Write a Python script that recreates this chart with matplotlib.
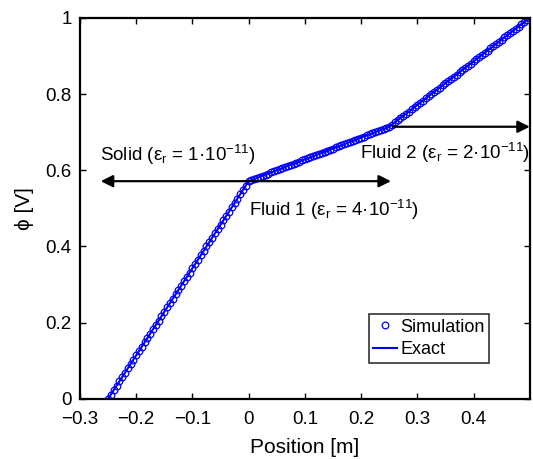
import numpy as np
import matplotlib
matplotlib.use('Agg')
import matplotlib.pyplot as plt

plt.rcParams['font.family'] = ['Liberation Sans', 'DejaVu Sans']
plt.rcParams['mathtext.default'] = 'regular'

# piecewise linear potential: solid / fluid 1 / fluid 2
x_nodes = [-0.25, 0.0, 0.25, 0.5]
phi_nodes = [0.0, 4 / 7, 5 / 7, 1.0]
x_sim = np.arange(-0.25, 0.5001, 0.005)
phi_sim = np.interp(x_sim, x_nodes, phi_nodes)

xticks = [-0.3, -0.2, -0.1, 0, 0.1, 0.2, 0.3, 0.4]
xticklabels = ['\u22120.3', '\u22120.2', '\u22120.1', '0', '0.1', '0.2', '0.3', '0.4']
yticks = [0, 0.2, 0.4, 0.6, 0.8, 1]
yticklabels = ['0', '0.2', '0.4', '0.6', '0.8', '1']

fig = plt.figure(figsize=(5.33, 4.59), dpi=100)
ax = fig.add_axes([0.150, 0.131, 0.844, 0.830])

ax.plot(x_sim, phi_sim, 'o', color='blue', mfc='none', ms=4.8, mew=0.9, label='Simulation')
ax.plot(x_nodes, phi_nodes, '-', color='blue', lw=1.5, label='Exact')

ax.set_xlim(-0.3, 0.5)
ax.set_ylim(0, 1)
ax.set_xticks(xticks)
ax.set_xticklabels(xticklabels)
ax.set_yticks(yticks)
ax.set_yticklabels(yticklabels)
ax.tick_params(direction='in', length=4, width=1, top=True, right=True, labelsize=13.5)
ax.tick_params(axis='x', pad=9)
ax.tick_params(axis='y', pad=6)
for s in ax.spines.values():
    s.set_linewidth(1.6)

ax.set_xlabel('Position [m]', fontsize=15, labelpad=7)
ax.set_ylabel('\u03d5 [V]', fontsize=15, labelpad=8)

# region arrows
ax.annotate('', xy=(-0.268, 4 / 7), xytext=(0.258, 4 / 7),
            arrowprops=dict(arrowstyle='<|-|>', color='black', lw=1.6, mutation_scale=18))
ax.annotate('', xy=(0.5, 5 / 7), xytext=(0.256, 5 / 7),
            arrowprops=dict(arrowstyle='-|>', color='black', lw=1.6, mutation_scale=18, shrinkA=0, shrinkB=0),
            annotation_clip=False)

ax.text(-0.264, 0.64, 'Solid (\u03b5$_r$ = 1\u00b710$^{\u221211}$)', fontsize=13.5, va='center', ha='left')
ax.text(0.0, 0.497, 'Fluid 1 (\u03b5$_r$ = 4\u00b710$^{\u221211}$)', fontsize=13.5, va='center', ha='left')
ax.text(0.5, 0.645, 'Fluid 2 (\u03b5$_r$ = 2\u00b710$^{\u221211}$)', fontsize=13.5, va='center', ha='right')

leg = ax.legend(loc='lower right', bbox_to_anchor=(0.91, 0.095), fontsize=13, frameon=True,
                fancybox=False, edgecolor='black', handlelength=1.3, handletextpad=0.2,
                borderpad=0.25, labelspacing=0.3, borderaxespad=0)
leg.get_frame().set_linewidth(1.2)

fig.savefig('out.png', dpi=100)
